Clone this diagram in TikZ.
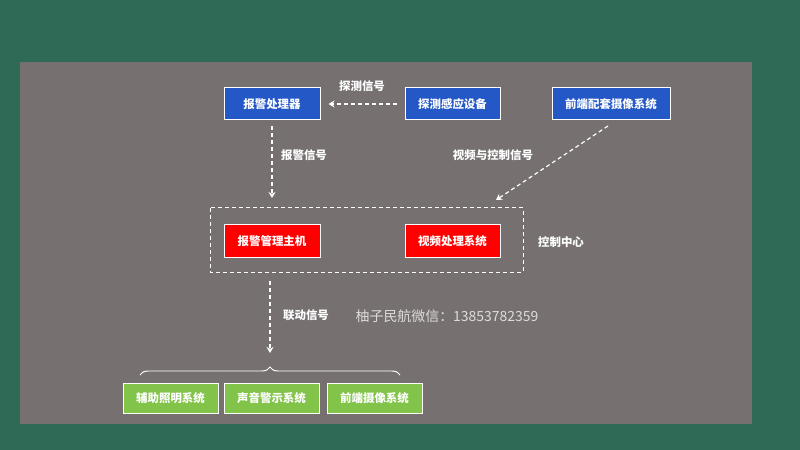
\documentclass[tikz,border=0pt]{standalone}
\usepackage{fontspec}
\setmainfont{Noto Sans CJK SC}
\usetikzlibrary{arrows.meta,decorations.pathreplacing}
\definecolor{bggreen}{HTML}{2E6A55}
\definecolor{panel}{HTML}{767170}
\definecolor{bbox}{HTML}{2458C6}
\definecolor{rbox}{HTML}{FF0000}
\definecolor{gbox}{HTML}{82C34A}
\tikzset{
 boxb/.style={draw=white,line width=1pt,fill=#1,text=white,font=\bfseries\fontsize{11.5}{13}\selectfont,minimum height=32bp,inner sep=0pt},
 lbl/.style={text=white,font=\bfseries\fontsize{11.5}{13}\selectfont},
 darr/.style={draw=white,dash pattern=on 4bp off 3bp,line width=1.2pt,-{Stealth[length=6bp,width=7bp]}}
}
\begin{document}
\begin{tikzpicture}[x=1bp,y=-1bp]
\fill[bggreen] (0,0) rectangle (800,450);
\useasboundingbox (0,0) rectangle (800,450);
\fill[panel] (20,62) rectangle (752,424);
\node[boxb=bbox,minimum width=96bp] (alp) at (272,104) {报警处理器};
\node[boxb=bbox,minimum width=95bp] (det) at (452.5,104) {探测感应设备};
\node[boxb=bbox,minimum width=118bp] (cam) at (611,104) {前端配套摄像系统};
\draw[white,dash pattern=on 4bp off 3bp,line width=1pt] (210,208) rectangle (523,272);
\node[boxb=rbox,minimum width=96bp] (host) at (272,241) {报警管理主机};
\node[boxb=rbox,minimum width=95bp] (vid) at (452.5,241) {视频处理系统};
\node[lbl] (cc) at (561,242) {控制中心};
\draw[darr] ([xshift=-8bp]det.west) -- ([xshift=8bp]alp.east);
\node[lbl] (l1) at (362,86) {探测信号};
\coordinate (a2s) at (272,126);
\coordinate (a2e) at (272,198);
\draw[darr] (a2s) -- (a2e);
\node[lbl] (l2) at (304,155) {报警信号};
\coordinate (a3s) at (608,126);
\coordinate (a3e) at (496,200);
\draw[darr] (a3s) -- (a3e);
\node[lbl] (l3) at (493,155) {视频与控制信号};
\coordinate (a4s) at (270,281);
\coordinate (a4e) at (270,353);
\draw[darr] (a4s) -- (a4e);
\node[lbl] (l4) at (306,315) {联动信号};
\node[text=white!75!panel,font=\fontsize{14}{16}\selectfont] (wm) at (447,316) {柚子民航微信：13853782359};
\node[boxb=gbox,minimum width=95bp,minimum height=30bp] (g1) at (170.5,398) {辅助照明系统};
\node[boxb=gbox,minimum width=95bp,minimum height=30bp] (g2) at (271.5,398) {声音警示系统};
\node[boxb=gbox,minimum width=95bp,minimum height=30bp] (g3) at (374.5,398) {前端摄像系统};
\draw[white,line width=1pt,decorate,decoration={brace,amplitude=8bp}] (140,375) -- (400,375);
\end{tikzpicture}
\end{document}
